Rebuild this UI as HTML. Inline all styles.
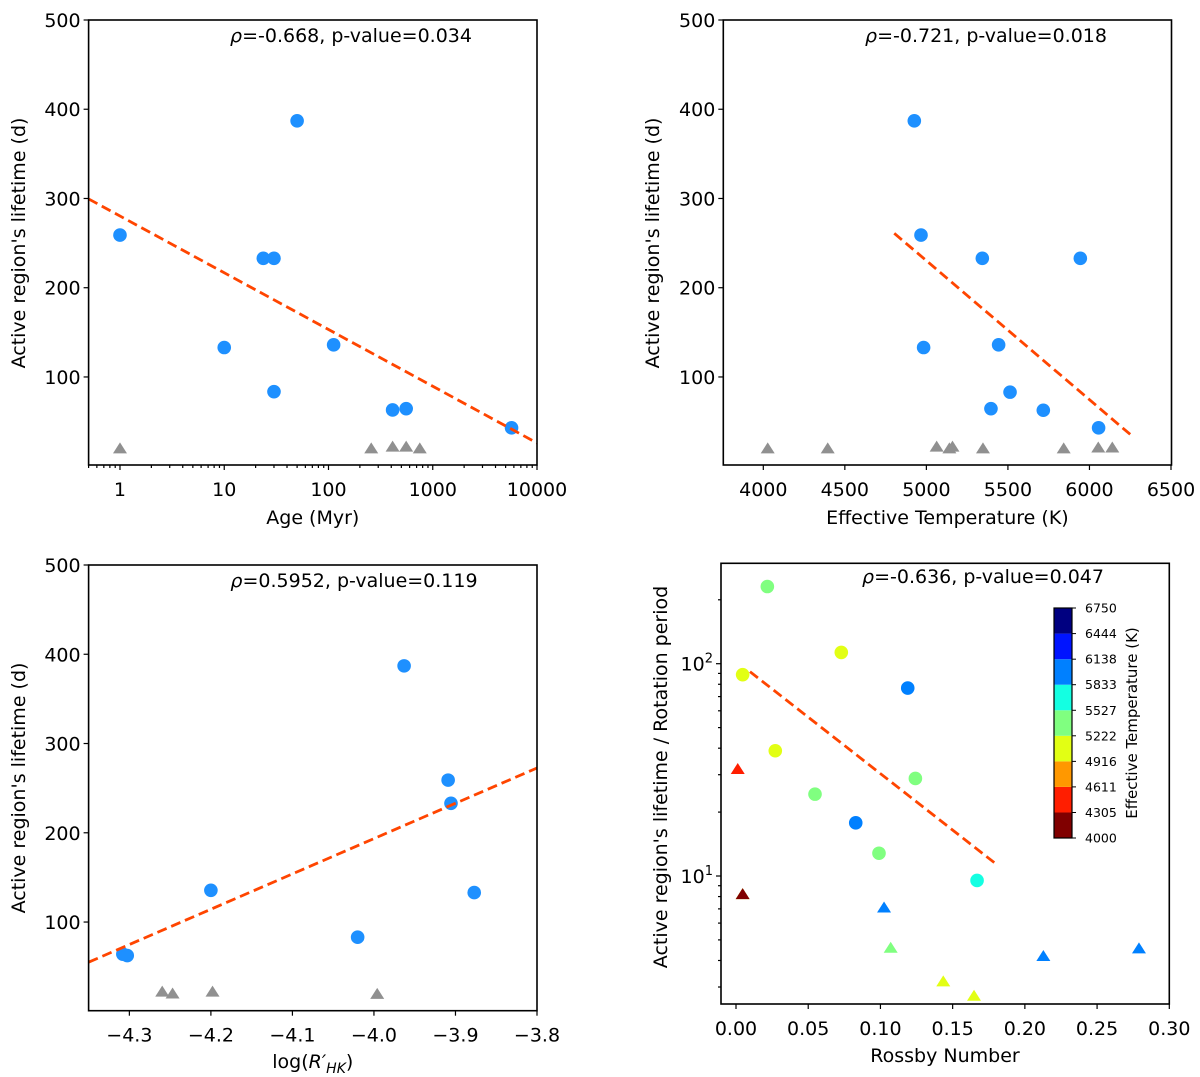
<!DOCTYPE html>
<html><head><meta charset="utf-8">
<style>
html,body{margin:0;padding:0;background:#fff;}
svg{display:block;font-family:"DejaVu Sans","Liberation Sans",sans-serif;}
</style></head>
<body>
<svg id="fig" width="1200" height="1077" viewBox="0 0 1200 1077" xmlns="http://www.w3.org/2000/svg"></svg>
<script>
// ---------- Panel 1: Age ----------
const ageCircX = [1, 10, 23.7, 30, 30, 50, 112, 412, 556, 5700];
const ageCircY = [259, 133, 233, 233, 83.5, 387, 136, 63, 64.5, 43];
const ageTriX = [1, 257, 412, 556, 751];
const ageTriY = [20, 20, 22, 22, 20];
const ageFitX = [0.5, 10000];
const ageFitY = [299.5, 26];
const ageTicks = [1, 10, 100, 1000, 10000];
// ---------- Panel 2: Teff ----------
const tCircX = [4926, 4967, 4983, 5343, 5944, 5443, 5513, 5396, 5717, 6056];
const tCircY = [387, 259, 133, 233, 233, 136, 83, 64.5, 62.7, 43];
const tTriX = [4027, 4395, 5063, 5141, 5160, 5347, 5842, 6054, 6140];
const tTriY = [20, 20, 22, 20, 22, 20, 20, 21, 21];
const tFitX = [4803, 6254];
const tFitY = [261, 35];
const tTicks = [4000, 4500, 5000, 5500, 6000, 6500];
// ---------- Panel 3: log R'HK ----------
const rCircX = [-4.308, -4.3026, -4.2, -4.02, -3.963, -3.909, -3.9055, -3.877];
const rCircY = [64, 62.5, 135.6, 83, 387, 259, 233, 133];
const rTriX = [-4.2597, -4.247, -4.198, -3.996];
const rTriY = [22, 20, 22, 19.5];
const rFitX = [-4.35, -3.8];
const rFitY = [55, 272.6];
const rTicks = [-4.3, -4.2, -4.1, -4.0, -3.9, -3.8];
const lifeTicks = [100, 200, 300, 400, 500];
// ---------- Panel 4: Rossby ----------
const roCircX = [0.0217, 0.0729, 0.0046, 0.1189, 0.0272, 0.1242, 0.0547, 0.0829, 0.0990, 0.1669];
const roCircY = [231, 113, 88.8, 76.8, 38.9, 28.8, 24.3, 17.8, 12.8, 9.53];
const roCircT = [5350, 5050, 5050, 5950, 5050, 5350, 5350, 5950, 5350, 5650];
const roTriX = [0.0012, 0.0046, 0.0046, 0.1025, 0.1071, 0.2128, 0.2790, 0.1435, 0.1648];
const roTriY = [31.9, 8.22, 8.22, 7.11, 4.59, 4.20, 4.56, 3.19, 2.73];
const roTriT = [4450, 5050, 4100, 5950, 5350, 5950, 5950, 5050, 5050];
const roFitX = [0.0097, 0.180];
const roFitY = [91.7, 11.4];
const roTicks = [0.00, 0.05, 0.10, 0.15, 0.20, 0.25, 0.30];
const cbTicks = [4000, 4305, 4611, 4916, 5222, 5527, 5833, 6138, 6444, 6750];
const cbColors = ["#800000","#ff1e00","#ff9800","#e2ff14","#80ff80","#14ffe2","#0080ff","#0014ff","#000080"];

const NS = "http://www.w3.org/2000/svg";
const svg = document.getElementById('fig');
function mk(tag, attrs, parent) {
  const e = document.createElementNS(NS, tag);
  for (const k in attrs) e.setAttribute(k, attrs[k]);
  (parent || svg).appendChild(e);
  return e;
}
function linScale(d0, d1, r0, r1) { return v => r0 + (v - d0) / (d1 - d0) * (r1 - r0); }
function logScale(d0, d1, r0, r1) { return v => r0 + (Math.log10(v) - Math.log10(d0)) / (Math.log10(d1) - Math.log10(d0)) * (r1 - r0); }
function tempColor(t) {
  let i = Math.floor((t - 4000) / (2750 / 9));
  i = Math.max(0, Math.min(8, i));
  return cbColors[i];
}
function circles(g, xs, ys, sx, sy, colorFn, name) {
  xs.forEach((v, i) => {
    const c = mk('circle', {cx: sx(v), cy: sy(ys[i]), r: 6.8, fill: colorFn(i)}, g);
    
    
  });
}
function triangles(g, xs, ys, sx, sy, colorFn, name) {
  xs.forEach((v, i) => {
    const x = sx(v), y = sy(ys[i]);
    const p = mk('polygon', {points: `${x-7},${y+5} ${x+7},${y+5} ${x},${y-6}`, fill: colorFn(i)}, g);
    
    
  });
}
function fitLine(g, xs, ys, sx, sy) {
  const l = mk('line', {x1: sx(xs[0]), y1: sy(ys[0]), x2: sx(xs[1]), y2: sy(ys[1]), stroke: '#ff4500', 'stroke-width': 2.8, 'stroke-dasharray': '10,5'}, g);
  
  
}
function frame(g, L, T, R, B) {
  const r = mk('rect', {x: L, y: T, width: R - L, height: B - T, fill: 'none', stroke: '#000', 'stroke-width': 1.6}, g);
  
  
}
function text(g, x, y, s, attrs, name) {
  const t = mk('text', Object.assign({x: x, y: y, fill: '#000'}, attrs || {}), g);
  t.textContent = s;
  
  
  return t;
}
function xTick(g, x, B, len) { mk('line', {x1: x, y1: B, x2: x, y2: B + len, stroke: '#000', 'stroke-width': 1.2}, g); }
function yTick(g, y, L, len) { mk('line', {x1: L, y1: y, x2: L - len, y2: y, stroke: '#000', 'stroke-width': 1.2}, g); }
function ann(g, x, y, s, name) {
  const t = mk('text', {x: x, y: y, 'font-size': 19, 'text-anchor': 'middle', fill: '#000'}, g);
  const rho = mk('tspan', {'font-style': 'italic'}, t); rho.textContent = 'ρ';
  const rest = mk('tspan', {}, t); rest.textContent = s;
  
  
}
function lifeYAxis(g, L, sy) {
  lifeTicks.forEach(v => { yTick(g, sy(v), L, 5); text(g, L - 8, sy(v) + 7, String(v), {'font-size': 19, 'text-anchor': 'end'}, 'y-tick-label'); });
}
function yTitle(g, x, y, s) {
  text(g, 0, 0, s, {'font-size': 19, 'text-anchor': 'middle', transform: `translate(${x},${y}) rotate(-90)`}, 'y-axis-title');
}

// Panel 1
(function(){
  const g = mk('g', {});  
  const L = 88.6, R = 537, T = 20, B = 465;
  const sx = logScale(0.5, 10000, L, R), sy = linScale(0, 500, 466.2, 20);
  triangles(g, ageTriX, ageTriY, sx, sy, () => '#909090', 'upper-limit-marker');
  circles(g, ageCircX, ageCircY, sx, sy, () => '#1e90ff', 'data-point');
  fitLine(g, ageFitX, ageFitY, sx, sy);
  frame(g, L, T, R, B);
  ageTicks.forEach(v => { xTick(g, sx(v), B, 5); text(g, sx(v), B + 31, String(v), {'font-size': 19, 'text-anchor': 'middle'}, 'x-tick-label'); });
  for (let d = -1; d < 4; d++) for (let m = 2; m <= 9; m++) { const v = m * Math.pow(10, d); if (v >= 0.5 && v <= 10000) xTick(g, sx(v), B, 3); }
  lifeYAxis(g, L, sy);
  text(g, (L + R) / 2, 524, 'Age (Myr)', {'font-size': 19, 'text-anchor': 'middle'}, 'x-axis-title');
  yTitle(g, 25, 243, "Active region's lifetime (d)");
  ann(g, 351, 42, '=-0.668, p-value=0.034', 'correlation-annotation');
})();
// Panel 2
(function(){
  const g = mk('g', {});  
  const L = 723.3, R = 1171.5, T = 20, B = 465;
  const sx = linScale(4000, 6500, 763.3, 1171), sy = linScale(0, 500, 466.2, 20);
  triangles(g, tTriX, tTriY, sx, sy, () => '#909090', 'upper-limit-marker');
  circles(g, tCircX, tCircY, sx, sy, () => '#1e90ff', 'data-point');
  fitLine(g, tFitX, tFitY, sx, sy);
  frame(g, L, T, R, B);
  tTicks.forEach(v => { xTick(g, sx(v), B, 5); text(g, sx(v), B + 31, String(v), {'font-size': 19, 'text-anchor': 'middle'}, 'x-tick-label'); });
  lifeYAxis(g, L, sy);
  text(g, (L + R) / 2, 524, 'Effective Temperature (K)', {'font-size': 19, 'text-anchor': 'middle'}, 'x-axis-title');
  yTitle(g, 659, 243, "Active region's lifetime (d)");
  ann(g, 986, 42, '=-0.721, p-value=0.018', 'correlation-annotation');
})();
// Panel 3
(function(){
  const g = mk('g', {});  
  const L = 88.6, R = 537, T = 565, B = 1010.7;
  const sx = linScale(-4.35, -3.8, L, R), sy = linScale(0, 500, 1011.3, 565);
  triangles(g, rTriX, rTriY, sx, sy, () => '#909090', 'upper-limit-marker');
  circles(g, rCircX, rCircY, sx, sy, () => '#1e90ff', 'data-point');
  fitLine(g, rFitX, rFitY, sx, sy);
  frame(g, L, T, R, B);
  rTicks.forEach(v => { xTick(g, sx(v), B, 5); text(g, sx(v), B + 31, '\u2212' + Math.abs(v).toFixed(1), {'font-size': 19, 'text-anchor': 'middle'}, 'x-tick-label'); });
  lifeYAxis(g, L, sy);
  const t = mk('text', {x: (L + R) / 2, y: 1068, 'font-size': 19, 'text-anchor': 'middle'}, g);
   
  const a = mk('tspan', {}, t); a.textContent = 'log(';
  const b = mk('tspan', {'font-style': 'italic'}, t); b.textContent = "R′";
  const c = mk('tspan', {'font-style': 'italic', 'font-size': 14, dy: 5}, t); c.textContent = 'HK';
  const d = mk('tspan', {dy: -5}, t); d.textContent = ')';
  yTitle(g, 25, 788, "Active region's lifetime (d)");
  ann(g, 354, 587, '=0.5952, p-value=0.119', 'correlation-annotation');
})();
// Panel 4
(function(){
  const g = mk('g', {});  
  const L = 721, R = 1169.3, T = 563.3, B = 1004;
  const sx = linScale(0, 0.30, 736, 1169.3), sy = logScale(10, 100, 876, 663.7);
  circles(g, roCircX, roCircY, sx, sy, i => tempColor(roCircT[i]), 'data-point');
  triangles(g, roTriX, roTriY, sx, sy, i => tempColor(roTriT[i]), 'upper-limit-marker');
  fitLine(g, roFitX, roFitY, sx, sy);
  frame(g, L, T, R, B);
  roTicks.forEach(v => { xTick(g, sx(v), B, 5); text(g, sx(v), B + 31, v.toFixed(2), {'font-size': 19, 'text-anchor': 'middle'}, 'x-tick-label'); });
  [10, 100].forEach(v => {
    yTick(g, sy(v), L, 5);
    const t = text(g, L - 8, sy(v) + 7, '10', {'font-size': 19, 'text-anchor': 'end'}, 'y-tick-label');
    const s = mk('tspan', {'font-size': 13, dy: -8}, t); s.textContent = v === 10 ? '1' : '2';
  });
  [3,4,5,6,7,8,9,20,30,40,50,60,70,80,90,200].forEach(v => yTick(g, sy(v), L, 3));
  text(g, 945, 1062, 'Rossby Number', {'font-size': 19, 'text-anchor': 'middle'}, 'x-axis-title');
  yTitle(g, 667, 777, "Active region's lifetime / Rotation period");
  ann(g, 983, 583, '=-0.636, p-value=0.047', 'correlation-annotation');
  // colorbar
  const cb = mk('g', {}, g);  
  const cy = linScale(4000, 6750, 838, 608);
  cbColors.forEach((col, i) => {
    const r = mk('rect', {x: 1054, y: cy(cbTicks[i + 1]), width: 18, height: cy(cbTicks[i]) - cy(cbTicks[i + 1]), fill: col}, cb);
    
    
  });
  mk('rect', {x: 1054, y: 608, width: 18, height: 230, fill: 'none', stroke: '#000', 'stroke-width': 1.2}, cb);
  cbTicks.forEach(v => {
    mk('line', {x1: 1072, y1: cy(v), x2: 1076, y2: cy(v), stroke: '#000', 'stroke-width': 1}, cb);
    text(cb, 1085, cy(v) + 4.5, String(v), {'font-size': 12.5}, 'colorbar-tick-label');
  });
  text(cb, 0, 0, 'Effective Temperature (K)', {'font-size': 15, 'text-anchor': 'middle', transform: 'translate(1137,723) rotate(-90)'}, 'colorbar-title');
})();
</script>
</body></html>
